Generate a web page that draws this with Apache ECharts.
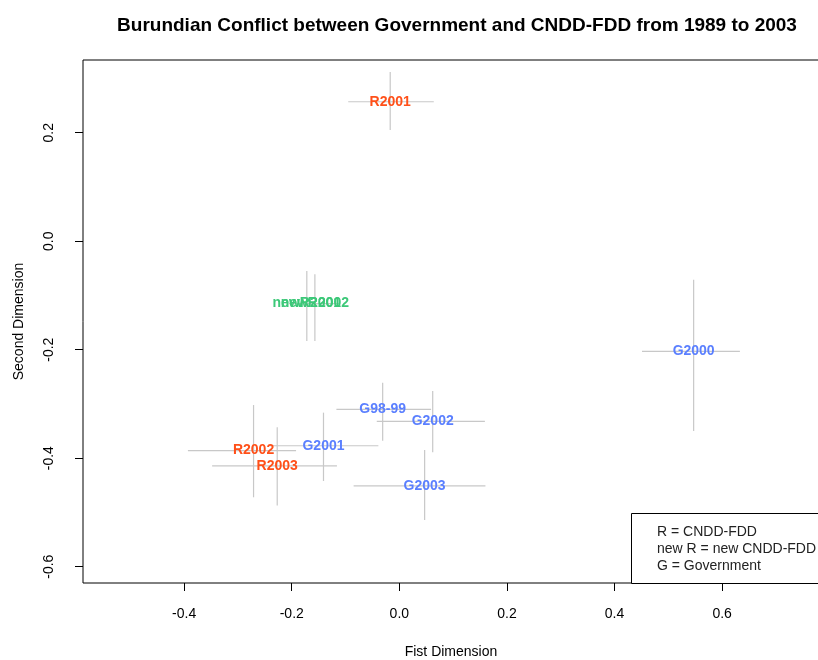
<!DOCTYPE html>
<html>
<head>
<meta charset="utf-8">
<title>Burundian Conflict</title>
<script src="https://cdn.jsdelivr.net/npm/echarts@6/dist/echarts.min.js"></script>
<style>
  html, body { margin: 0; padding: 0; background: #fff; }
  #chart { width: 818px; height: 660px; }
</style>
</head>
<body>
<div id="chart"></div>
<script>
// point labels, group: R = CNDD-FDD, N = new CNDD-FDD, G = Government
const labels = ['R2001', 'newR2001', 'newR2002', 'G2000', 'G98-99', 'G2002', 'G2001', 'R2002', 'R2003', 'G2003'];
const groups = ['R', 'N', 'N', 'G', 'G', 'G', 'G', 'R', 'R', 'G'];

// estimates (first / second dimension) with their intervals
const xVals  = [-0.017, -0.172, -0.157, 0.547, -0.031, 0.062, -0.141, -0.271, -0.227, 0.047];
const xLow   = [-0.095, -0.205, -0.190, 0.451, -0.117, -0.042, -0.241, -0.393, -0.348, -0.085];
const xHigh  = [0.064, -0.138, -0.112, 0.633, 0.059, 0.159, -0.039, -0.192, -0.116, 0.160];
const yVals  = [0.257, -0.115, -0.115, -0.203, -0.310, -0.332, -0.377, -0.386, -0.414, -0.451];
const yLow   = [0.205, -0.184, -0.184, -0.350, -0.368, -0.389, -0.442, -0.472, -0.487, -0.514];
const yHigh  = [0.312, -0.055, -0.061, -0.071, -0.261, -0.276, -0.316, -0.302, -0.343, -0.385];

const xTicks = [-0.4, -0.2, 0, 0.2, 0.4, 0.6];
const yTicks = [-0.6, -0.4, -0.2, 0, 0.2];

const legendLines = ['R = CNDD-FDD', 'new R = new CNDD-FDD', 'G = Government'];

const groupColor = { R: '#FF5019', N: '#3CC878', G: '#5A7FFF' };
const font = 'Liberation Sans, Arial, sans-serif';

const chart = echarts.init(document.getElementById('chart'));

const barData = labels.map((t, i) => [xVals[i], yVals[i], xLow[i], xHigh[i], yLow[i], yHigh[i]]);
const labelData = labels.map((t, i) => ({
  value: [xVals[i], yVals[i]],
  name: t,
  label: { color: groupColor[groups[i]] }
}));

chart.setOption({
  animation: false,
  backgroundColor: '#fff',
  title: {
    text: 'Burundian Conflict between Government and CNDD-FDD from 1989 to 2003',
    left: 452,
    textAlign: 'center',
    top: 11,
    textStyle: { fontFamily: font, fontSize: 19, fontWeight: 'bold', color: '#000' }
  },
  grid: {
    left: 83, top: 60, right: -1, bottom: 77,
    outerBoundsMode: 'none',
    show: true, borderColor: '#000', borderWidth: 1, backgroundColor: 'transparent'
  },
  xAxis: {
    type: 'value',
    min: -0.588, max: 0.780,
    name: 'Fist Dimension',
    nameLocation: 'middle',
    nameGap: 62,
    nameTextStyle: { fontFamily: font, fontSize: 14, color: '#000' },
    axisLine: { show: false, onZero: false },
    splitLine: { show: false },
    axisTick: { show: true, inside: false, length: 8, customValues: xTicks, lineStyle: { color: '#000' } },
    axisLabel: {
      customValues: xTicks, margin: 24,
      fontFamily: font, fontSize: 14, color: '#000',
      formatter: v => v.toFixed(1)
    }
  },
  yAxis: {
    type: 'value',
    min: -0.630, max: 0.334,
    name: 'Second Dimension',
    nameLocation: 'middle',
    nameGap: 57,
    nameTextStyle: { fontFamily: font, fontSize: 14, color: '#000' },
    axisLine: { show: false, onZero: false },
    splitLine: { show: false },
    axisTick: { show: true, inside: false, length: 8, customValues: yTicks, lineStyle: { color: '#000' } },
    axisLabel: {
      customValues: yTicks, margin: 27, rotate: 90,
      fontFamily: font, fontSize: 14, color: '#000',
      formatter: v => v.toFixed(1)
    }
  },
  series: [
    {
      type: 'custom',
      data: barData,
      encode: { x: 0, y: 1 },
      z: 2,
      renderItem: (params, api) => {
        const x = api.value(0), y = api.value(1);
        const h0 = api.coord([api.value(2), y]);
        const h1 = api.coord([api.value(3), y]);
        const v0 = api.coord([x, api.value(4)]);
        const v1 = api.coord([x, api.value(5)]);
        const st = { stroke: '#C8C8C8', lineWidth: 1.2 };
        return {
          type: 'group',
          children: [
            { type: 'line', shape: { x1: h0[0], y1: h0[1], x2: h1[0], y2: h1[1] }, style: st },
            { type: 'line', shape: { x1: v0[0], y1: v0[1], x2: v1[0], y2: v1[1] }, style: st }
          ]
        };
      }
    },
    {
      type: 'scatter',
      data: labelData,
      z: 5,
      symbolSize: 1,
      itemStyle: { color: 'rgba(0,0,0,0)', opacity: 1 },
      label: {
        show: true,
        position: 'inside',
        formatter: p => p.name,
        fontFamily: font,
        fontSize: 14,
        fontWeight: 'bold'
      }
    }
  ],
  graphic: [
    {
      type: 'rect',
      left: 631, top: 513,
      shape: { width: 200, height: 70 },
      style: { fill: '#fff', stroke: '#000', lineWidth: 1 },
      z: 10
    },
    ...legendLines.map((t, i) => ({
      type: 'text',
      left: 657, top: 525 + i * 17,
      style: { text: t, fontFamily: font, fontSize: 14, fill: '#222' },
      z: 11
    }))
  ]
});
</script>
</body>
</html>
